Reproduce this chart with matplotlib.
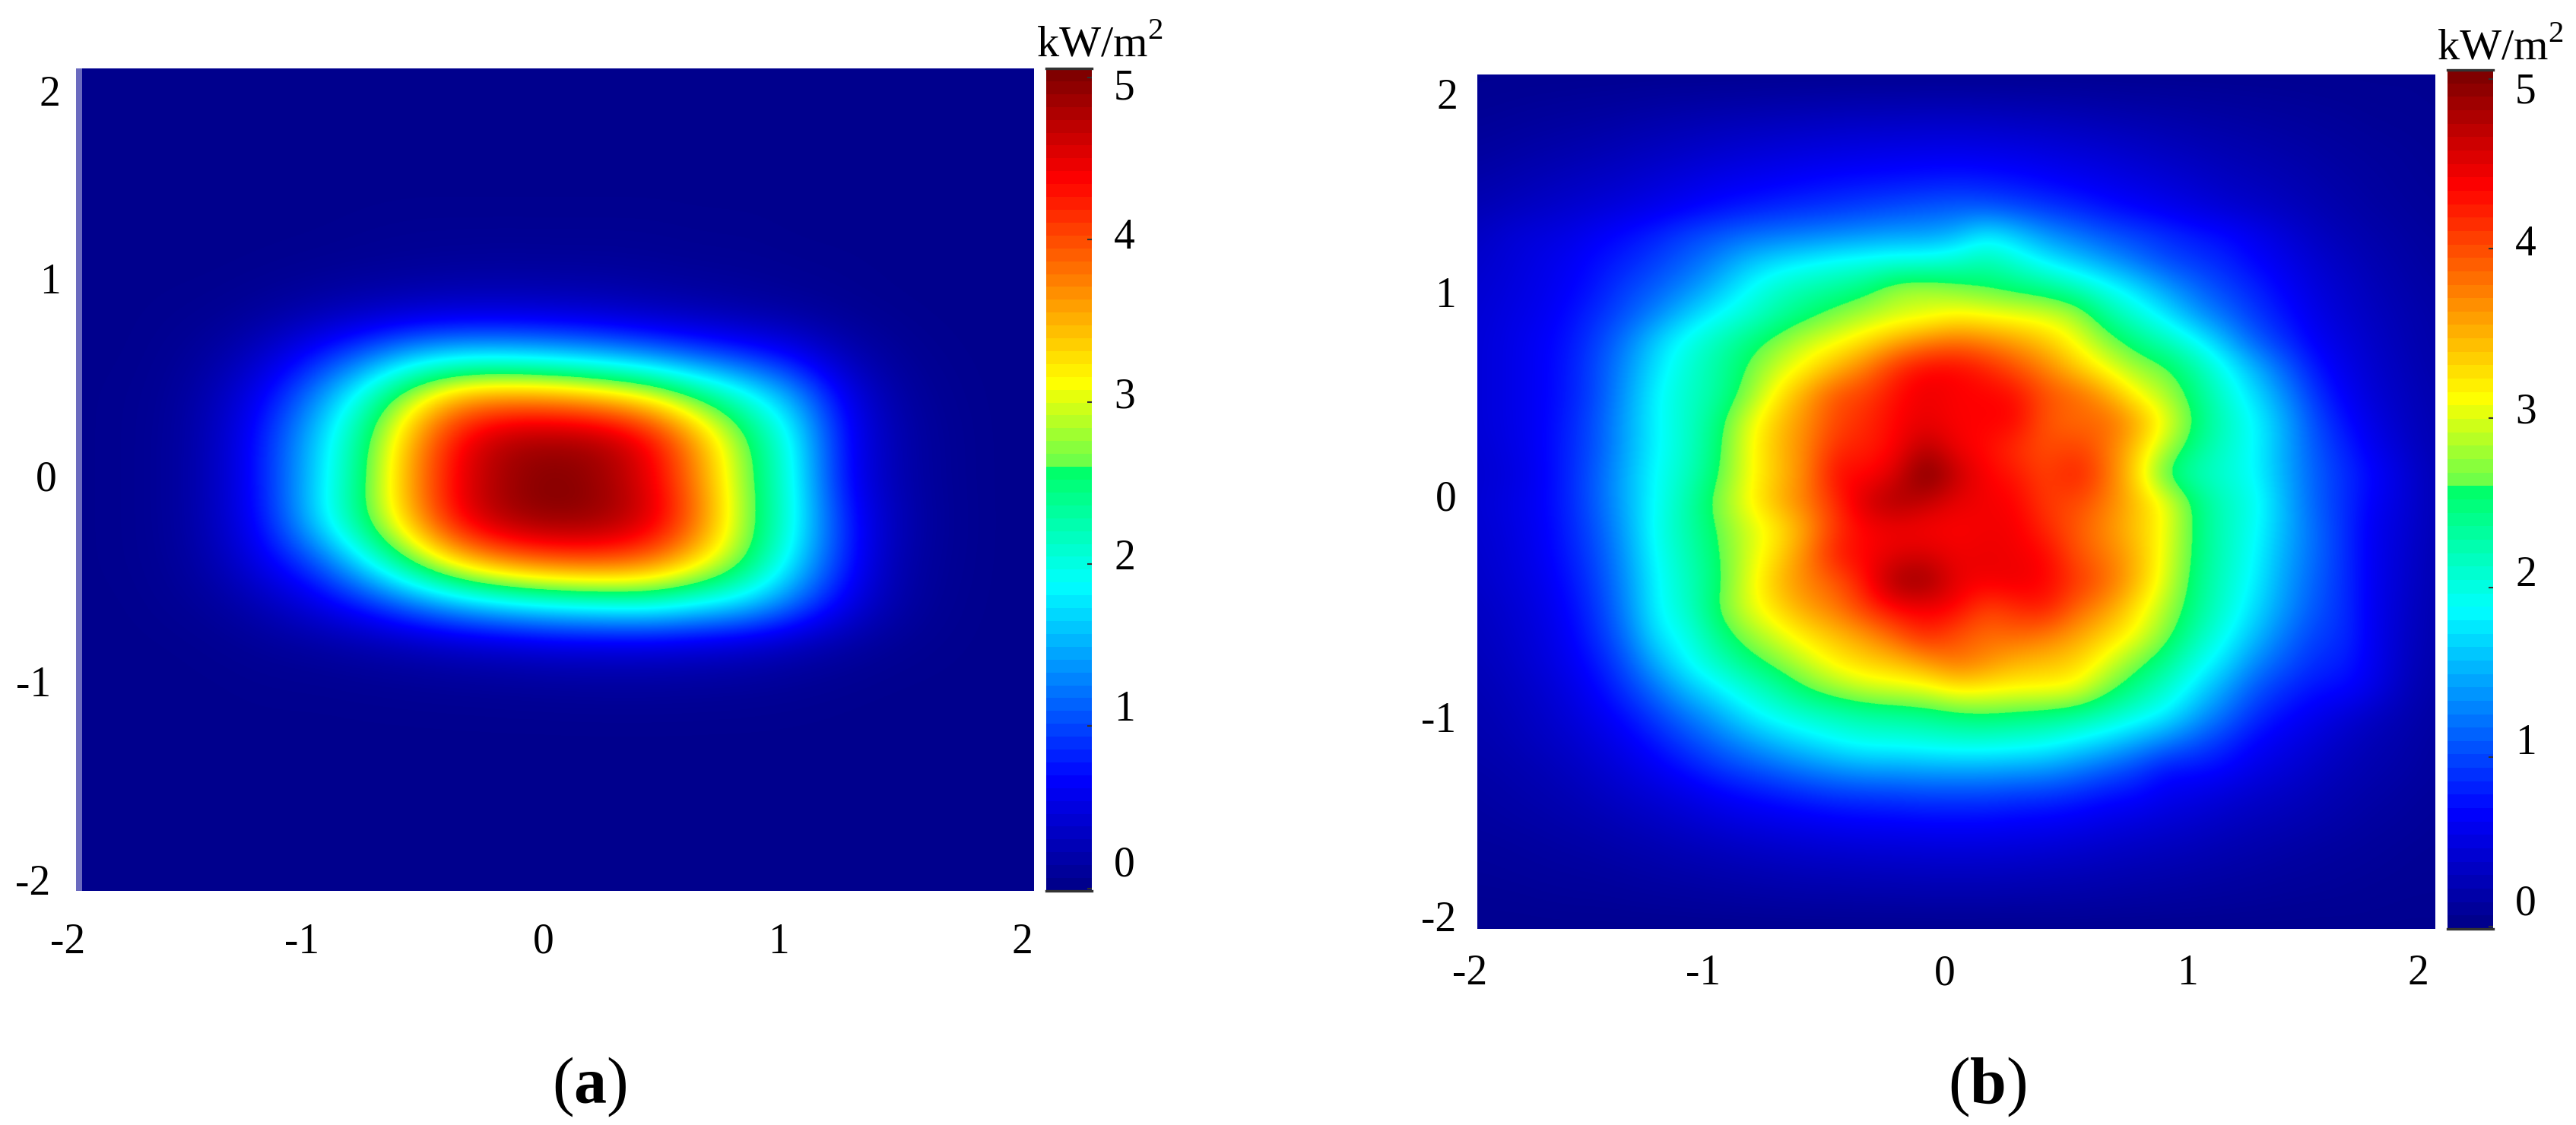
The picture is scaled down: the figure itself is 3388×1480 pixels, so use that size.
import numpy as np
import matplotlib
matplotlib.use("Agg")
import matplotlib.pyplot as plt
from matplotlib.cm import ScalarMappable
from matplotlib.colors import LinearSegmentedColormap, Normalize
from matplotlib.transforms import ScaledTranslation

# irradiance (a), rows y=2..-2 and columns x=-2..2, spacing 0.2
field_a = [
    [0] * 21,
    [0] * 21,
    [0] * 21,
    [0] * 21,
    [0, 0, 0, 0, 0, 0, .01, .02, .02, .02, .02, .02, .02, .01, .01, 0, 0, 0, 0, 0, 0],
    [0, 0, 0, 0, .01, .03, .05, .07, .09, .10, .09, .09, .07, .05, .04, .02, .01, 0, 0, 0, 0],
    [0, 0, .01, .03, .10, .20, .30, .38, .42, .42, .40, .35, .28, .22, .15, .10, .04, .01, 0, 0, 0],
    [0, 0, .03, .13, .38, .75, 1.15, 1.55, 1.72, 1.72, 1.62, 1.48, 1.28, 1.05, .85, .60, .25, .07, .01, 0, 0],
    [0, .01, .05, .25, .68, 1.30, 2.10, 3.00, 3.65, 3.75, 3.70, 3.50, 3.20, 2.60, 2.05, 1.45, .60, .16, .03, 0, 0],
    [0, .01, .06, .30, .85, 1.60, 2.45, 3.55, 4.45, 4.85, 4.90, 4.85, 4.45, 3.60, 2.65, 1.85, .72, .22, .05, 0, 0],
    [0, .01, .06, .30, .85, 1.65, 2.50, 3.65, 4.50, 4.90, 5.05, 4.90, 4.50, 3.70, 2.70, 1.90, .70, .22, .05, 0, 0],
    [0, .01, .06, .30, .80, 1.70, 2.55, 3.55, 4.50, 4.90, 5.02, 4.95, 4.65, 3.85, 2.75, 1.95, .85, .27, .06, 0, 0],
    [0, .01, .05, .22, .60, 1.00, 1.80, 2.65, 3.40, 3.80, 4.00, 4.05, 3.90, 3.35, 2.65, 1.75, .85, .22, .05, 0, 0],
    [0, 0, .03, .09, .25, .50, .80, 1.20, 1.55, 1.80, 1.95, 2.05, 2.10, 1.90, 1.70, 1.20, .60, .18, .03, 0, 0],
    [0, 0, 0, .02, .06, .10, .16, .22, .30, .35, .42, .42, .42, .38, .32, .22, .12, .04, .01, 0, 0],
    [0, 0, 0, 0, .01, .01, .02, .03, .04, .05, .06, .07, .07, .06, .05, .03, .01, 0, 0, 0, 0],
    [0] * 21,
    [0] * 21,
    [0] * 21,
    [0] * 21,
    [0] * 21,
]

# irradiance (b), rows y=2..-2 and columns x=-2..2, spacing 0.125
field_b = [
    [.02] * 33,
    [.03, .04, .05, .06, .07, .08, .10, .11, .12, .13, .14, .15, .16, .17, .17, .18, .18, .17, .16, .15, .14, .12, .11, .10, .09, .08, .07, .06, .05, .04, .03, .03, .02],
    [.06, .08, .10, .12, .14, .17, .20, .23, .26, .28, .30, .32, .34, .35, .36, .37, .37, .36, .34, .32, .29, .26, .23, .20, .17, .15, .13, .11, .09, .07, .05, .04, .03],
    [.10, .13, .16, .19, .22, .26, .30, .34, .38, .42, .45, .48, .50, .52, .54, .55, .56, .54, .52, .48, .44, .40, .35, .30, .26, .22, .19, .16, .13, .10, .08, .06, .04],
    [.16, .20, .24, .28, .32, .36, .42, .48, .54, .58, .62, .66, .70, .72, .74, .76, .78, .76, .72, .66, .60, .54, .48, .42, .36, .30, .26, .22, .17, .13, .10, .07, .05],
    [.22, .27, .32, .37, .42, .48, .55, .62, .70, .76, .82, .86, .90, .95, 1.0, 1.05, 1.08, 1.05, .98, .90, .82, .72, .64, .56, .48, .40, .34, .28, .22, .16, .12, .09, .06],
    [.30, .40, .45, .50, .60, .70, .80, .95, 1.05, 1.15, 1.20, 1.25, 1.30, 1.35, 1.40, 1.40, 1.50, 1.80, 1.60, 1.35, 1.20, 1.05, .95, .85, .75, .68, .55, .42, .30, .22, .16, .12, .08],
    [.35, .42, .50, .58, .70, .80, .95, 1.10, 1.30, 1.55, 1.70, 1.80, 1.90, 1.95, 2.00, 2.00, 2.10, 2.25, 2.05, 1.80, 1.60, 1.40, 1.20, 1.00, .90, .80, .65, .52, .38, .28, .20, .14, .10],
    [.38, .45, .52, .62, .75, .95, 1.10, 1.30, 1.55, 1.85, 2.10, 2.25, 2.35, 2.50, 2.80, 2.85, 2.70, 2.60, 2.50, 2.40, 2.20, 1.95, 1.70, 1.40, 1.15, .95, .80, .62, .45, .34, .24, .17, .12],
    [.40, .48, .55, .68, .85, 1.05, 1.30, 1.60, 1.85, 2.05, 2.30, 2.50, 2.70, 2.85, 2.95, 3.00, 3.15, 3.10, 3.05, 3.00, 2.85, 2.35, 2.05, 1.75, 1.40, 1.15, .90, .72, .52, .38, .28, .20, .14],
    [.42, .50, .60, .72, .95, 1.25, 1.65, 1.95, 2.20, 2.45, 2.70, 2.95, 3.10, 3.30, 3.55, 3.75, 3.85, 3.75, 3.60, 3.40, 3.10, 2.75, 2.45, 2.20, 1.90, 1.50, 1.10, .85, .60, .45, .32, .22, .15],
    [.42, .50, .60, .75, 1.00, 1.35, 1.75, 2.05, 2.30, 2.60, 2.95, 3.20, 3.50, 3.80, 4.20, 4.40, 4.40, 4.25, 4.00, 3.75, 3.40, 3.10, 2.80, 2.65, 2.30, 1.90, 1.50, 1.10, .75, .52, .36, .25, .16],
    [.42, .50, .60, .75, 1.00, 1.40, 1.85, 2.10, 2.30, 2.70, 3.20, 3.60, 4.00, 4.10, 4.35, 4.50, 4.40, 4.40, 4.35, 4.00, 3.90, 3.60, 3.15, 2.85, 2.45, 2.05, 1.70, 1.30, .88, .60, .40, .28, .18],
    [.42, .50, .60, .78, 1.05, 1.45, 1.85, 2.10, 2.45, 3.00, 3.40, 3.70, 4.05, 4.20, 4.40, 4.50, 4.40, 4.40, 4.40, 3.95, 3.85, 3.90, 3.60, 3.10, 2.55, 2.15, 1.85, 1.45, 1.00, .70, .48, .30, .20],
    [.40, .48, .60, .80, 1.05, 1.45, 1.85, 2.10, 2.50, 3.05, 3.45, 3.75, 4.20, 4.25, 4.40, 4.80, 4.45, 4.35, 4.15, 4.00, 4.10, 3.85, 3.40, 2.85, 2.40, 2.10, 1.85, 1.45, 1.05, .80, .55, .36, .20],
    [.38, .45, .58, .80, 1.10, 1.50, 1.90, 2.15, 2.55, 3.05, 3.40, 3.75, 4.40, 4.35, 4.60, 5.15, 4.70, 4.40, 4.30, 4.05, 4.30, 3.90, 3.30, 2.50, 2.20, 2.05, 1.85, 1.45, 1.10, .85, .65, .42, .22],
    [.40, .48, .60, .80, 1.10, 1.50, 1.90, 2.25, 2.70, 3.10, 3.50, 3.80, 4.20, 4.65, 4.85, 4.70, 4.50, 4.45, 4.40, 4.10, 4.05, 3.80, 3.45, 3.10, 2.50, 2.15, 1.95, 1.50, 1.10, .85, .60, .42, .22],
    [.38, .46, .58, .78, 1.05, 1.45, 1.95, 2.25, 2.60, 2.95, 3.20, 3.60, 4.15, 4.40, 4.45, 4.40, 4.40, 4.45, 4.45, 4.20, 3.95, 3.70, 3.40, 3.10, 2.50, 2.15, 1.90, 1.50, 1.15, .85, .55, .40, .22],
    [.36, .44, .56, .75, 1.00, 1.40, 1.90, 2.20, 2.55, 2.95, 3.30, 3.75, 4.30, 4.40, 4.55, 4.60, 4.45, 4.50, 4.45, 4.40, 4.00, 3.80, 3.50, 3.05, 2.50, 2.15, 1.85, 1.45, 1.15, .85, .55, .38, .20],
    [.34, .42, .52, .70, .95, 1.35, 1.85, 2.15, 2.50, 3.00, 3.45, 3.75, 3.95, 4.35, 4.90, 4.95, 4.50, 4.45, 4.50, 4.40, 4.15, 3.90, 3.50, 3.00, 2.45, 2.10, 1.80, 1.40, 1.10, .85, .55, .36, .20],
    [.30, .38, .48, .65, .90, 1.30, 1.85, 2.10, 2.60, 3.00, 3.30, 3.60, 3.80, 4.15, 4.40, 4.45, 4.40, 4.05, 4.20, 4.30, 3.90, 3.65, 3.25, 2.85, 2.40, 2.05, 1.70, 1.35, 1.05, .85, .55, .34, .18],
    [.28, .35, .45, .60, .85, 1.20, 1.75, 1.95, 2.40, 2.75, 3.00, 3.25, 3.45, 3.65, 3.95, 4.25, 4.00, 3.85, 3.90, 3.80, 3.60, 3.35, 3.10, 2.70, 2.25, 1.90, 1.55, 1.20, .95, .85, .55, .32, .18],
    [.25, .32, .42, .55, .75, 1.05, 1.50, 1.85, 2.15, 2.45, 2.70, 2.95, 3.20, 3.35, 3.45, 3.65, 3.85, 3.70, 3.50, 3.45, 3.35, 3.05, 2.70, 2.40, 2.00, 1.70, 1.30, 1.05, .85, .78, .55, .30, .16],
    [.22, .28, .36, .48, .65, .90, 1.20, 1.55, 1.80, 2.05, 2.30, 2.60, 2.80, 2.95, 3.00, 3.05, 3.25, 3.20, 3.15, 3.15, 3.10, 2.70, 2.40, 2.10, 1.75, 1.40, 1.05, .85, .72, .68, .50, .26, .14],
    [.20, .25, .32, .42, .55, .72, .95, 1.20, 1.45, 1.75, 1.95, 2.10, 2.20, 2.30, 2.35, 2.40, 2.50, 2.55, 2.50, 2.45, 2.35, 2.20, 2.00, 1.80, 1.45, 1.15, .85, .68, .55, .42, .30, .20, .12],
    [.18, .22, .28, .35, .45, .58, .75, .95, 1.15, 1.35, 1.55, 1.70, 1.85, 1.95, 1.95, 2.00, 2.05, 2.05, 2.00, 1.95, 1.80, 1.65, 1.45, 1.25, 1.05, .85, .65, .52, .42, .30, .22, .16, .10],
    [.15, .18, .22, .28, .36, .46, .58, .72, .88, 1.00, 1.12, 1.25, 1.35, 1.42, 1.42, 1.45, 1.45, 1.45, 1.42, 1.38, 1.25, 1.10, .95, .72, .72, .65, .50, .42, .32, .24, .18, .14, .09],
    [.12, .15, .18, .22, .28, .35, .42, .50, .60, .68, .75, .82, .88, .90, .92, .95, .95, .95, .90, .88, .82, .72, .68, .55, .50, .42, .35, .30, .24, .18, .14, .10, .07],
    [.10, .12, .14, .17, .20, .25, .30, .36, .42, .48, .52, .56, .60, .62, .63, .65, .65, .65, .62, .60, .56, .50, .45, .40, .35, .30, .25, .22, .18, .14, .10, .08, .05],
    [.07, .08, .10, .12, .14, .17, .20, .24, .27, .31, .34, .37, .39, .41, .42, .43, .44, .43, .42, .40, .37, .33, .30, .27, .24, .20, .17, .14, .11, .09, .07, .05, .04],
    [.05, .06, .07, .08, .09, .11, .13, .15, .17, .19, .21, .23, .24, .25, .26, .27, .27, .27, .26, .24, .23, .21, .19, .17, .15, .13, .11, .09, .08, .06, .05, .04, .03],
    [.03, .03, .04, .05, .05, .06, .07, .08, .09, .10, .11, .12, .12, .13, .13, .14, .14, .14, .13, .13, .12, .11, .10, .09, .08, .07, .06, .05, .04, .04, .03, .02, .02],
    [.01] * 33,
]

axis_ticks = [-2, -1, 0, 1, 2]
axis_labels = ["-2", "-1", "0", "1", "2"]
bar_ticks = [0, 1, 2, 3, 4, 5]
bar_labels = ["0", "1", "2", "3", "4", "5"]
vmin, vmax = -0.015, 5.056

plt.rcParams['font.family'] = ['Liberation Serif', 'DejaVu Sans']
plt.rcParams['mathtext.fontset'] = 'custom'
plt.rcParams['mathtext.rm'] = 'Liberation Serif'
plt.rcParams['mathtext.bf'] = 'Liberation Serif:bold'

W, H = 3388, 1480
DPI = 100

# jet-like map with the step near mid scale seen in the original
jet_steps = [(0.0, (0, 0, .55)), (.13, (0, 0, 1)), (.37, (0, 1, 1)), (.513, (0, 1, .4)),
             (.517, (.4, 1, .3)), (.62, (1, 1, 0)), (.87, (1, 0, 0)), (1.0, (.5, 0, 0))]
map_cmap = LinearSegmentedColormap.from_list("jetstep", jet_steps, N=512)
bar_cmap = LinearSegmentedColormap.from_list("jetbar", jet_steps, N=64)
norm = Normalize(vmin, vmax)


def box(l, t, r, b):
    return [l / W, 1 - b / H, (r - l) / W, (b - t) / H]


def shift(label, dx, dy):
    label.set_transform(label.get_transform() + ScaledTranslation(dx / DPI, -dy / DPI, fig.dpi_scale_trans))


def panel(field, map_box, bar_box, xshift, yshift, ydx, barshift, xpad, ypad, barx, unit_xy, tag, tag_x):
    ax = fig.add_axes(box(*map_box))
    values = np.array(field, dtype=float)
    # half a cell beyond the range, so the first and last nodes sit on the axes edge
    half = 2.0 / (values.shape[0] - 1)
    ax.imshow(values, extent=[-2 - half, 2 + half, -2 - half, 2 + half], cmap=map_cmap,
              norm=norm, interpolation='bicubic', aspect='auto')
    ax.set_xlim(-2, 2)
    ax.set_ylim(-2, 2)
    ax.set_xticks(axis_ticks)
    ax.set_xticklabels(axis_labels)
    ax.set_yticks(axis_ticks)
    ax.set_yticklabels(axis_labels)
    ax.tick_params(length=0, labelsize=40)
    ax.tick_params(axis='x', pad=xpad)
    ax.tick_params(axis='y', pad=ypad)
    for s in ax.spines.values():
        s.set_visible(False)
    for lab, d in zip(ax.get_xticklabels(), xshift):
        shift(lab, d, 0)
    for lab, dx, d in zip(ax.get_yticklabels(), ydx, yshift):
        shift(lab, dx, d)

    cax = fig.add_axes(box(*bar_box))
    cb = fig.colorbar(ScalarMappable(norm=norm, cmap=bar_cmap), cax=cax)
    cb.outline.set_visible(False)
    cb.set_ticks(bar_ticks)
    cb.set_ticklabels(bar_labels)
    cax.tick_params(direction='in', length=4, width=1.5, color='#333333', labelsize=40, pad=barx)
    for lab, d in zip(cax.get_yticklabels(), barshift):
        shift(lab, 0, d)
    for yy in (0, 1):
        cax.plot([0, 1], [yy, yy], transform=cax.transAxes, color='#333333', lw=2.4, clip_on=False)
    fig.text(unit_xy[0] / W, 1 - unit_xy[1] / H, r'kW/m$^{\mathrm{2}}$', fontsize=42, ha='left', va='baseline')
    fig.text(tag_x / W, 1 - 1430 / H, tag, fontsize=62, ha='center', va='center')
    return ax


fig = plt.figure(figsize=(W / DPI, H / DPI), dpi=DPI)

ax_a = panel(field_a, (100, 90, 1359, 1172), (1376, 90, 1436, 1172),
             [-11, -18, -15, -20, -15], [-15, -5, -5, 6, 29], [0, 0, 8, 13, 13],
             [-36, -27, -13, -12, -8, 9],
             30, 24, 21, (1363, 74), r'($\mathbf{a}$)', 775)
ax_a.axvspan(-2, -2 + 8 / 314.75, color='#6a6abf', lw=0)

panel(field_b, (1943, 98, 3202, 1222), (3219, 92, 3279, 1222),
      [-10, -18, -15, -10, -22], [-17, 2, -8, 5, 25], [0, 0, 0, 0, 2],
      [-35, -24, -22, -14, -11, 11],
      24, 20, 21, (3205, 77), r'($\mathbf{b}$)', 2614)

fig.savefig("out.png", dpi=DPI)
